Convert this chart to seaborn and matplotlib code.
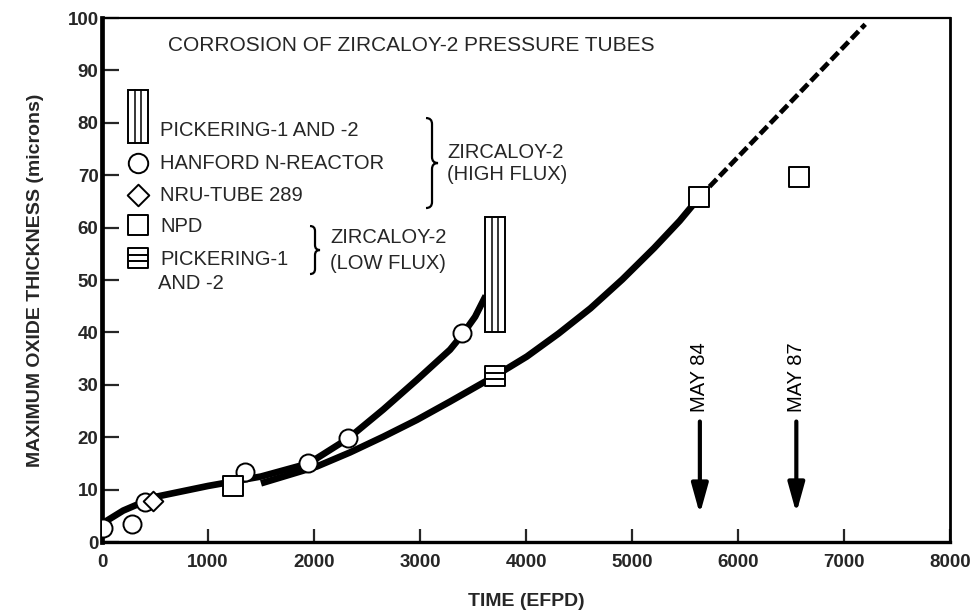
import numpy as np
import matplotlib
matplotlib.use("Agg")
import matplotlib.pyplot as plt
import seaborn as sns
from matplotlib.path import Path
from matplotlib.patches import PathPatch, Rectangle

# ---------------- data ----------------
upper_x = [0, 200, 500, 1000, 1500, 1950, 2325, 2654, 2968, 3283, 3400, 3520, 3620]
upper_y = [3.5, 6.0, 8.6, 10.7, 12.5, 15.0, 19.8, 25.3, 30.9, 36.7, 39.6, 43.0, 47.0]
lower_x = [1500, 2025, 2340, 2654, 2970, 3283, 3708, 4008, 4308, 4608,
           4908, 5208, 5450, 5635]
lower_y = [11.2, 14.4, 17.1, 20.1, 23.3, 26.8, 31.7, 35.4, 39.8, 44.6,
           50.1, 56.1, 61.3, 65.8]
extrap_x = [5635, 7200]
extrap_y = [65.8, 98.8]

hanford_x = [10, 285, 405, 1350, 1946, 2324, 3393]
hanford_y = [2.6, 3.4, 7.7, 13.4, 15.0, 19.8, 39.9]
nru_x = [484]
nru_y = [7.9]
npd_x = [1240, 5635, 6578]
npd_y = [10.6, 65.8, 69.7]
pick_low_x = [3708]
pick_low_y = [31.6]
pick_high_x = [3708]
pick_high_lo = [40.0]
pick_high_hi = [62.0]
pick_high_w = 190

events_x = [5640, 6550]
events_top = [23.0, 23.0]
events_tip = [5.3, 5.5]
events_label = ["MAY 84", "MAY 87"]

xticks = list(range(0, 8001, 1000))
yticks = list(range(0, 101, 10))

title = "CORROSION OF ZIRCALOY-2 PRESSURE TUBES"
xlabel = "TIME (EFPD)"
ylabel = "MAXIMUM OXIDE THICKNESS (microns)"

# ---------------- style ----------------
sns.set_style("white")
plt.rcParams["font.family"] = ["Liberation Sans", "DejaVu Sans"]
FS = 14.5

fig = plt.figure(figsize=(9.77, 6.16), dpi=100)
ax = fig.add_axes([0.1044, 0.1201, 0.8680, 0.8506])
W_PX, H_PX = 848.0, 524.0


def axx(px):  # pixel column -> axes fraction
    return (px - 102) / W_PX


def axy(py):  # pixel row -> axes fraction
    return (542 - py) / H_PX


# curves
sns.lineplot(x=upper_x, y=upper_y, ax=ax, color="black", lw=4.8, sort=False,
             estimator=None, zorder=3)
sns.lineplot(x=lower_x, y=lower_y, ax=ax, color="black", lw=4.8, sort=False,
             estimator=None, zorder=3)
sns.lineplot(x=extrap_x, y=extrap_y, ax=ax, color="black", lw=3.4, sort=False,
             estimator=None, zorder=3)
ax.lines[-1].set_dashes((2.2, 0.9))
for ln in ax.lines:
    ln.set_solid_capstyle("butt")
    ln.set_solid_joinstyle("round")

# hatched-square marker (low flux Pickering)
hsq = Path([(-1, -1), (1, -1), (1, 1), (-1, 1), (-1, -1),
            (-1, -1 / 3), (1, -1 / 3), (-1, 1 / 3), (1, 1 / 3)],
           [Path.MOVETO, Path.LINETO, Path.LINETO, Path.LINETO, Path.CLOSEPOLY,
            Path.MOVETO, Path.LINETO, Path.MOVETO, Path.LINETO])

mk = dict(color="white", edgecolor="black", linewidth=1.4, zorder=6, legend=False)
sns.scatterplot(x=hanford_x, y=hanford_y, ax=ax, marker="o", s=13 ** 2, **mk)
sns.scatterplot(x=nru_x, y=nru_y, ax=ax, marker="D", s=10 ** 2, **mk)
sns.scatterplot(x=npd_x, y=npd_y, ax=ax, marker="s", s=15 ** 2, **mk)
sns.scatterplot(x=pick_low_x, y=pick_low_y, ax=ax, marker=hsq, s=15 ** 2, **mk)

# vertical-striped bar (high flux Pickering)
heights = np.subtract(pick_high_hi, pick_high_lo)
ax.bar(pick_high_x, heights, bottom=pick_high_lo, width=pick_high_w,
       color="white", edgecolor="black", linewidth=1.4, zorder=5)
for xc, lo, hi in zip(pick_high_x, pick_high_lo, pick_high_hi):
    ax.vlines([xc - pick_high_w / 6, xc + pick_high_w / 6], lo, hi,
              color="black", lw=1.1, zorder=6)

# event arrows
for ex, top, tip, lab in zip(events_x, events_top, events_tip, events_label):
    ax.annotate("", xy=(ex, tip), xytext=(ex, top),
                arrowprops=dict(arrowstyle="-|>,head_length=1.8,head_width=0.5",
                                mutation_scale=10, lw=3.0, color="black",
                                shrinkA=0, shrinkB=0), zorder=4)
    ax.text(ex, top + 1.9, lab, rotation=90, ha="center", va="bottom",
            fontsize=FS, color="black")

# axes
ax.set_xlim(0, 8000)
ax.set_ylim(0, 100)
ax.set_xticks(xticks)
ax.set_yticks(yticks)
ax.set_xticklabels([str(v) for v in xticks], fontweight="bold")
ax.set_yticklabels([str(v) for v in yticks], fontweight="bold")
ax.tick_params(axis="x", direction="in", length=9.5, width=1.6, pad=8.5,
               labelsize=13.5, top=False, bottom=True)
ax.tick_params(axis="y", direction="in", length=12, width=1.6, pad=2.5,
               labelsize=13.5, left=True, right=False)
for side, lw in (("left", 3.4), ("bottom", 2.4), ("top", 1.6), ("right", 2.0)):
    ax.spines[side].set_visible(True)
    ax.spines[side].set_linewidth(lw)
    ax.spines[side].set_color("black")

ax.set_xlabel(xlabel, fontsize=14, fontweight="bold", va="top")
ax.xaxis.set_label_coords(0.5, -0.097)
ax.set_ylabel(ylabel, fontsize=14, fontweight="bold")
ax.yaxis.set_label_coords(-0.068, 0.5)

# title
ax.text(axx(168), axy(45), title, transform=ax.transAxes, ha="left",
        va="center", fontsize=15)

# ---------------- manual key ----------------
tA = ax.transAxes
mx = axx(138)
tx = axx(160)
ax.add_patch(Rectangle((axx(128), axy(143)), 20 / W_PX, 53 / H_PX, transform=tA,
                       facecolor="white", edgecolor="black", lw=1.4, zorder=6))
for fx in (128 + 20 / 3, 128 + 40 / 3):
    ax.plot([axx(fx), axx(fx)], [axy(143), axy(90)], transform=tA,
            color="black", lw=1.1, zorder=7)
ax.scatter([mx], [axy(163)], transform=tA, marker="o", s=14 ** 2, c="white",
           edgecolors="black", linewidths=1.4, zorder=6)
ax.scatter([mx], [axy(195)], transform=tA, marker="D", s=11 ** 2, c="white",
           edgecolors="black", linewidths=1.4, zorder=6)
ax.scatter([mx], [axy(225)], transform=tA, marker="s", s=14.5 ** 2, c="white",
           edgecolors="black", linewidths=1.4, zorder=6)
ax.scatter([mx], [axy(258)], transform=tA, marker=hsq, s=14.5 ** 2, c="white",
           edgecolors="black", linewidths=1.4, zorder=6)

key_text = [("PICKERING-1 AND -2", 130), ("HANFORD N-REACTOR", 163),
            ("NRU-TUBE 289", 195), ("NPD", 226), ("PICKERING-1", 259),
            ("AND -2", 283)]
for s, py in key_text:
    ax.text(tx if s != "AND -2" else axx(158), axy(py), s, transform=tA,
            ha="left", va="center", fontsize=FS)


def brace(xpx, top, bot, w=6, r=6):
    mid = (top + bot) / 2
    v = [(xpx - w, top), (xpx, top), (xpx, top + r), (xpx, mid - r),
         (xpx, mid), (xpx + w, mid), (xpx, mid), (xpx, mid + r),
         (xpx, bot - r), (xpx, bot), (xpx - w, bot)]
    c = [Path.MOVETO, Path.CURVE3, Path.CURVE3, Path.LINETO,
         Path.CURVE3, Path.CURVE3, Path.CURVE3, Path.CURVE3,
         Path.LINETO, Path.CURVE3, Path.CURVE3]
    vv = [(axx(a), axy(b)) for a, b in v]
    ax.add_patch(PathPatch(Path(vv, c), transform=tA, fill=False,
                           edgecolor="black", lw=1.6, zorder=6))


brace(432, 118, 208)
ax.text(axx(447), axy(152), "ZIRCALOY-2", transform=tA, ha="left",
        va="center", fontsize=FS)
ax.text(axx(447), axy(174), "(HIGH FLUX)", transform=tA, ha="left",
        va="center", fontsize=FS)
brace(315, 226, 274, w=5, r=5)
ax.text(axx(330), axy(237), "ZIRCALOY-2", transform=tA, ha="left",
        va="center", fontsize=FS)
ax.text(axx(330), axy(263), "(LOW FLUX)", transform=tA, ha="left",
        va="center", fontsize=FS)

fig.savefig("out.png", dpi=100)
